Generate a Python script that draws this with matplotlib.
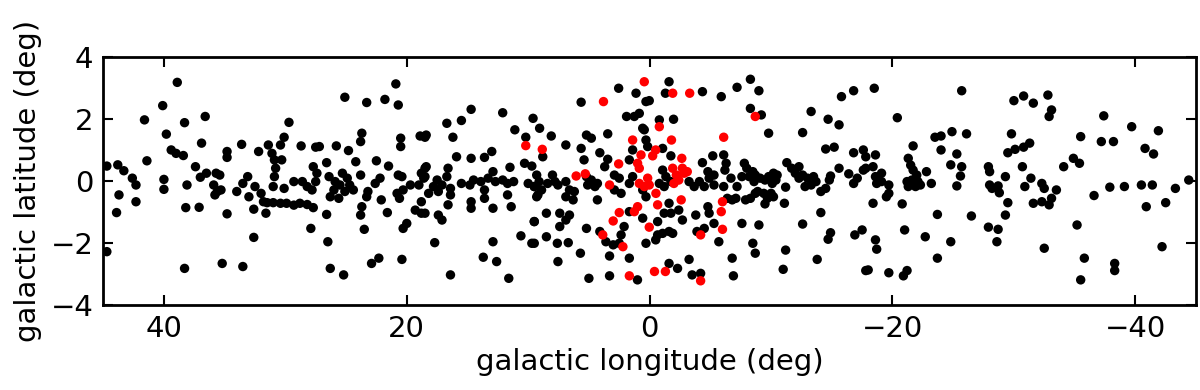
import numpy as np
import matplotlib
matplotlib.use('Agg')
import matplotlib.pyplot as plt
from matplotlib import rc

rc('font', size=21)

# galactic longitude / latitude (deg)
black_l = [
  38.9, 40.1, 41.6, 38.3, 36.6, 39.8, 36.9, 39.4, 39.0, 38.4, 41.4, 44.7, 43.8, 43.3,
  42.6, 42.3, 37.4, 37.0, 36.5, 40.0, 40.0, 38.1, 43.7, 42.3, 43.9, 38.2, 37.1, 44.7, 38.3,
  29.7, 33.6, 34.8, 34.8, 32.2, 31.4, 30.1, 30.4, 28.7, 27.5, 31.1, 30.9, 30.8, 30.9, 31.0,
  30.3, 35.7, 35.4, 35.9, 35.6, 35.3, 35.8, 33.1, 33.5, 34.0, 33.0, 32.5, 32.0, 31.8,
  31.5, 31.0, 30.4, 29.9, 29.3, 28.8, 28.2, 27.7, 29.3, 28.6, 28.2, 27.8, 27.7, 30.1,
  32.6, 31.6, 34.8, 27.9, 32.6, 35.2, 33.5,
  20.9, 25.1, 23.3, 21.8, 20.7, 23.7, 23.8, 20.5, 20.5, 18.9, 18.5, 27.2, 25.8, 24.8,
  26.6, 24.2, 22.5, 21.5, 27.4, 27.5, 26.4, 25.9, 25.3, 24.9, 24.7, 25.5, 26.0, 26.3,
  25.6, 25.1, 24.4, 23.8, 23.2, 23.3, 22.6, 22.2, 22.1, 20.7, 20.4, 20.8, 20.6, 20.3,
  19.7, 19.0, 18.8, 18.5, 18.6, 18.8, 19.3, 18.8, 26.6, 23.7, 23.8, 21.6, 23.5, 20.3,
  20.0, 26.5, 22.9, 22.3, 20.4, 26.3, 25.2,
  14.7, 12.1, 9.6, 16.7, 15.5, 18.4, 16.2, 11.1, 10.2, 15.9, 14.7, 13.6, 13.0, 11.5,
  10.3, 9.7, 18.4, 18.5, 16.6, 16.7, 17.5, 17.8, 17.1, 18.2, 17.4, 16.4, 15.5, 14.8,
  14.5, 13.9, 13.3, 12.9, 12.7, 12.1, 11.7, 11.2, 13.6, 13.6, 14.7, 14.7, 16.4, 16.6,
  18.5, 17.4, 17.1, 12.9, 11.7, 11.4, 10.0, 9.5, 9.3, 9.5, 17.7, 12.9, 10.6, 9.7, 13.7,
  12.6, 16.4, 11.6,
  2.55, 1.12, 5.64, 0.3, 1.9, 1.26, 0.85, 0.57, 9.06, 8.1, 5.2, 4.8, 3.45, 6.9, 5.64,
  4.1, 1.4, 8.8, 5.4, 3.45, 3.7, 1.67, 9.3, 9.1, 9.5, 8.9, 9.2, 8.4, 8.0, 7.8, 7.55,
  6.9, 6.6, 6.2, 6.9, 6.3, 5.2, 4.8, 4.5, 4.3, 5.1, 4.3, 2.9, 2.5, 2.9, 2.35, 1.67,
  1.4, 8.5, 9.5, 7.4, 6.6, 6.9, 7.4, 8.5, 7.6, 6.7, 9.5, 5.2, 4.1, 3.6, 3.0, 2.35,
  2.1, 2.5, 0.57, 1.67, 0.3, 7.55, 5.7, 3.3, 1.67, 5.0, 3.3, 1.0,
  -1.6, -4.35, -5.9, -7.2, -8.3, -1.3, 0.03, -1.97, -0.8, -8.3, 0.44, 0.3, 0.16, -1.07,
  -1.75, -4.35, -5.2, -6.1, -6.3, -6.2, -7.8, -8.0, -8.5, -8.2, -8.6, -7.6, -1.07,
  -1.34, -1.75, -1.2, -0.8, -3.25, -3.67, -4.1, -4.5, -4.9, -5.3, -5.3, -4.8, -6.1,
  -6.7, -7.2, -6.8, -7.1, -6.4, -8.3, -7.9, -8.7, 0.57, 0.3, -1.6, -1.2, -1.75, -2.4,
  -2.7, -3.8, -4.8, -4.9, -5.3, -7.6, -0.66, -1.07, -1.6, -1.9, -0.5, -0.66, -3.9,
  -4.5, -5.7, -8.5, -3.25, -1.6, -2.3, -6.8, -3.5, -4.2, -6.9, -8.7,
  -9.0, -9.2, -9.8, -13.3, -14.7, -15.6, -15.8, -16.8, -12.6, -14.5, -15.2, -16.8,
  -17.6, -17.8, -11.3, -11.7, -12.3, -12.0, -12.6, -13.0, -12.3, -13.5, -13.7, -13.3,
  -12.8, -14.1, -14.5, -14.8, -14.9, -15.6, -16.4, -16.8, -17.6, -17.1, -8.7, -9.1,
  -9.5, -9.8, -10.2, -10.4, -10.1, -10.5, -8.9, -9.4, -10.0, -10.2, -9.7, -11.2, -9.5,
  -11.1, -14.1, -9.0, -12.6, -14.9, -14.7, -16.9, -17.5, -11.2, -13.8, -11.0, -17.8,
  -18.5, -25.7, -20.4, -21.7, -23.5, -24.0, -24.9, -26.1, -24.0, -25.3, -21.3, -21.5,
  -21.7, -22.0, -22.1, -21.6, -21.2, -21.3, -21.9, -22.3, -22.8, -23.2, -24.8, -25.7,
  -25.6, -25.3, -17.8, -18.6, -18.4, -18.6, -19.1, -18.7, -19.1, -19.7, -19.7, -19.5,
  -18.4, -20.8, -23.7, -26.5, -21.0, -22.7, -24.8, -18.6, -18.7, -23.7, -18.0, -19.7,
  -20.9, -21.2,
  -30.0, -30.8, -31.6, -32.8, -33.1, -32.9, -29.8, -35.5, -29.5, -30.1, -30.8, -31.3,
  -30.7, -34.1, -34.9, -35.4, -27.9, -28.0, -29.3, -28.0, -28.7, -28.8, -28.2, -30.9,
  -31.4, -32.3, -32.5, -33.5, -31.6, -32.3, -32.9, -33.1, -29.5, -29.3, -27.9, -28.7,
  -28.6, -32.5, -35.2, -35.8, -35.5,
  -37.4, -39.7, -41.9, -37.2, -38.2, -40.8, -41.5, -36.6, -37.9, -39.1, -40.5, -41.4,
  -43.3, -44.4, -40.9, -42.5, -42.2, -38.3, -38.3,
]
black_b = [
  3.18, 2.43, 1.97, 1.88, 2.08, 1.51, 1.22, 1.00, 0.89, 0.82, 0.65, 0.48, 0.52, 0.33,
  0.09, -0.13, 0.46, 0.12, 0.25, 0.05, -0.27, -0.13, -0.45, -0.67, -1.02, -0.86, -0.85, -2.28, -2.82,
  1.89, 1.18, 0.95, 0.76, 0.95, 1.16, 1.41, 1.16, 1.13, 1.09, 0.89, 0.68, 0.41, 0.14, -0.18,
  0.68, 0.25, 0.19, -0.13, -0.34, -0.29, -0.45, 0.14, -0.08, -0.34, -0.51, -0.18, -0.40, -0.67,
  -0.70, -0.70, -0.72, -0.72, -0.78, -0.72, -0.76, -0.86, -0.02, -0.02, -0.18, -0.29, 0.46, -0.24,
  -0.91, -1.04, -1.06, -1.53, -1.82, -2.66, -2.76,
  3.13, 2.70, 2.53, 2.63, 2.45, 1.54, 1.27, 1.38, 1.11, 1.45, 1.41, 1.11, 1.13, 0.98,
  0.59, 0.62, 0.65, 0.48, 0.25, -0.02, 0.14, -0.02, 0.25, 0.09, -0.13, -0.13, -0.29, -0.51,
  -0.56, -0.34, -0.29, 0.19, -0.34, -0.51, -0.08, 0.09, -0.61, 0.19, 0.14, -0.40, -0.56, -0.29,
  -0.13, -0.13, 0.25, 0.41, 0.09, -0.67, -0.94, -1.04, -1.08, -0.83, -1.10, -1.02, -1.56, -1.53,
  -1.37, -1.96, -2.66, -2.49, -2.53, -2.82, -3.03,
  2.31, 2.20, 2.02, 1.86, 1.95, 1.48, 1.41, 1.65, 1.41, 0.78, 0.73, 0.76, 0.95, 0.44,
  0.57, 0.48, 0.46, 0.14, 0.41, 0.14, 0.03, -0.18, -0.13, -0.40, -0.34, -0.24, -0.08, -0.13,
  0.03, -0.02, 0.09, 0.30, -0.02, 0.03, -0.08, -0.02, -0.29, -0.56, -0.67, -0.88, -0.45, -0.77,
  -1.04, -1.10, -1.26, -0.88, -0.45, -0.83, -0.08, -0.18, -0.51, -1.31, -1.99, -1.96, -1.77, -2.01, -2.46,
  -2.60, -3.03, -3.14,
  2.99, 2.83, 2.54, 2.56, 2.08, 2.08, 2.18, 1.70, 1.70, 1.45, 1.48, 1.38, 1.52, 1.16, 1.05,
  0.91, 1.00, 0.78, 0.68, 0.70, 0.46, 0.68, 0.19, -0.02, -0.18, -0.29, -0.45, -0.08, 0.19, -0.02, -0.13,
  -0.02, -0.29, -0.34, -0.51, -0.61, 0.14, 0.03, -0.18, -0.08, -0.13, -0.61, 0.19, 0.09, -0.29, -0.40, -0.08,
  0.14, -1.04, -1.31, -1.04, -1.10, -1.26, -1.47, -1.80, -2.01, -1.99, -2.01, -1.53, -1.63, -1.96, -2.06, -1.74,
  -1.47, -2.01, -1.20, -0.99, -2.01, -2.60, -2.33, -2.42, -2.49, -3.14, -3.06, -3.19,
  3.20, 2.88, 2.72, 3.02, 3.28, 2.83, 2.59, 1.99, 1.97, 2.34, 1.65, 1.32, 1.11, 1.05,
  0.81, 0.59, 0.81, 0.84, 0.57, 0.35, 0.57, 0.41, 0.30, 0.14, -0.02, 0.14, 0.35,
  0.14, -0.02, -0.18, -0.08, -0.02, -0.18, -0.02, -0.18, 0.09, 0.19, -0.13, 0.30, -0.18,
  0.09, -0.18, -0.61, -0.56, -0.56, -0.56, -0.61, -0.40, -0.29, -0.51, -0.72, -1.04, -1.04, -0.94,
  -1.26, -1.10, -0.83, -1.04, -1.37, -1.37, -1.31, -1.69, -1.63, -1.69, -1.90, -1.74, -1.63,
  -1.53, -1.96, -2.01, -2.53, -2.66, -2.82, -2.49, -3.03, -2.98, -3.06, -2.33,
  2.91, 2.13, 1.54, 2.24, 1.99, 1.81, 2.72, 2.91, 1.56, 1.03, 1.09, 0.91,
  1.00, 0.78, 0.59, 0.41, 0.46, 0.25, 0.19, 0.09, 0.09, 0.14, -0.02, -0.13,
  -0.18, -0.34, -0.24, 0.03, 0.16, 0.41, 0.23, -0.08, 0.35, 0.09, 0.19, 0.09,
  0.03, 0.14, 0.25, 0.03, -0.08, 0.19, -0.34, -0.40, -0.40, -0.51, -0.56, -0.20, -0.74,
  -0.72, -1.02, -1.42, -1.39, -1.67, -1.88, -1.74, -1.58, -2.23, -2.53, -2.85, -2.89,
  2.99, 2.91, 2.04, 1.13, 1.41, 1.45, 1.59, 1.52, 1.00, 0.87, 0.73, 0.51,
  0.35, 0.19, -0.02, 0.03, -0.02, -0.18, -0.18, -0.13, 0.30, -0.08, 0.52, 0.46,
  0.16, -0.16, 0.41, 0.84, 0.46, 0.14, 0.25, -0.08, -0.02, -0.13, -0.40, -0.51,
  -0.72, -0.74, -1.08, -1.13, -1.58, -1.80, -1.96, -1.90, -2.20, -2.49, -2.87, -2.96,
  -3.06, -2.89,
  2.59, 2.74, 2.51, 2.77, 2.29, 2.08, 1.52, 1.43, 0.91, 1.02, 1.09, 1.22,
  0.46, 0.46, 0.73, 0.57, 0.46, 0.30, 0.14, -0.13, -0.16, -0.38, -0.24, -0.18,
  0.09, -0.08, -0.24, -0.29, -0.72, -0.67, -0.77, -0.56, -0.70, -1.10, -1.49, -1.56,
  -1.96, -2.17, -1.42, -2.49, -3.19,
  2.10, 1.75, 1.62, 1.27, 1.27, 1.05, 0.87, -0.47, -0.20, -0.18, -0.13, -0.13,
  -0.24, 0.03, -0.83, -0.70, -2.12, -2.66, -2.89,
]

red_l = [
  0.44, 3.8, 8.84, 1.4, 0.71, 0.99, 0.85, 2.55, 6.05, 5.3, 3.3, 0.85, 0.44, 0.99, 1.26,
  2.5, 3.0, 3.86, 2.2, 1.67, 10.2,
  -1.9, -3.3, -8.7, -0.8, -6.1, -1.8, -0.5, -0.25, -2.65, -1.9, -2.7, -3.1, -2.2, -2.4,
  -2.0, -2.85, 0.16, 0.03, -0.52, -0.66, -2.6, -6.0, -5.9, -6.0, 0.03, -4.2, -0.4, -1.3,
  -4.2,
]
red_b = [
  3.20, 2.56, 1.02, 1.32, 0.84, 0.57, 0.41, 0.55, 0.16, 0.23, -0.13, -0.08, -0.18, -0.83, -0.99,
  -1.02, -1.29, -1.74, -2.12, -3.06, 1.14,
  2.83, 2.83, 2.08, 1.75, 1.41, 1.32, 1.00, 0.81, 0.73, 0.41, 0.41, 0.30, 0.19, 0.03,
  -0.08, 0.25, 0.09, -0.13, -0.40, -0.77, -0.61, -0.67, -0.99, -1.56, -1.49, -1.74, -2.92, -2.92,
  -3.22,
]

fig = plt.figure(figsize=(12, 3.9), dpi=100)
ax = fig.add_axes([0.086, 0.218, 0.9107, 0.636])

ax.scatter(black_l, black_b, s=46, c='k', marker='o', edgecolors='none')
ax.scatter(red_l, red_b, s=46, c='#ff0000', marker='o', edgecolors='none')

ax.set_xlim(45, -45)
ax.set_ylim(-4, 4)
ax.set_xticks([40, 20, 0, -20, -40])
ax.set_yticks([-4, -2, 0, 2, 4])

ax.tick_params(direction='in', top=True, right=True, length=7, width=1.5, pad=7)
for s in ax.spines.values():
  s.set_linewidth(2)

ax.set_xlabel('galactic longitude (deg)', labelpad=4)
ax.set_ylabel('galactic latitude (deg)', labelpad=6)

plt.savefig('out.png', dpi=100)
